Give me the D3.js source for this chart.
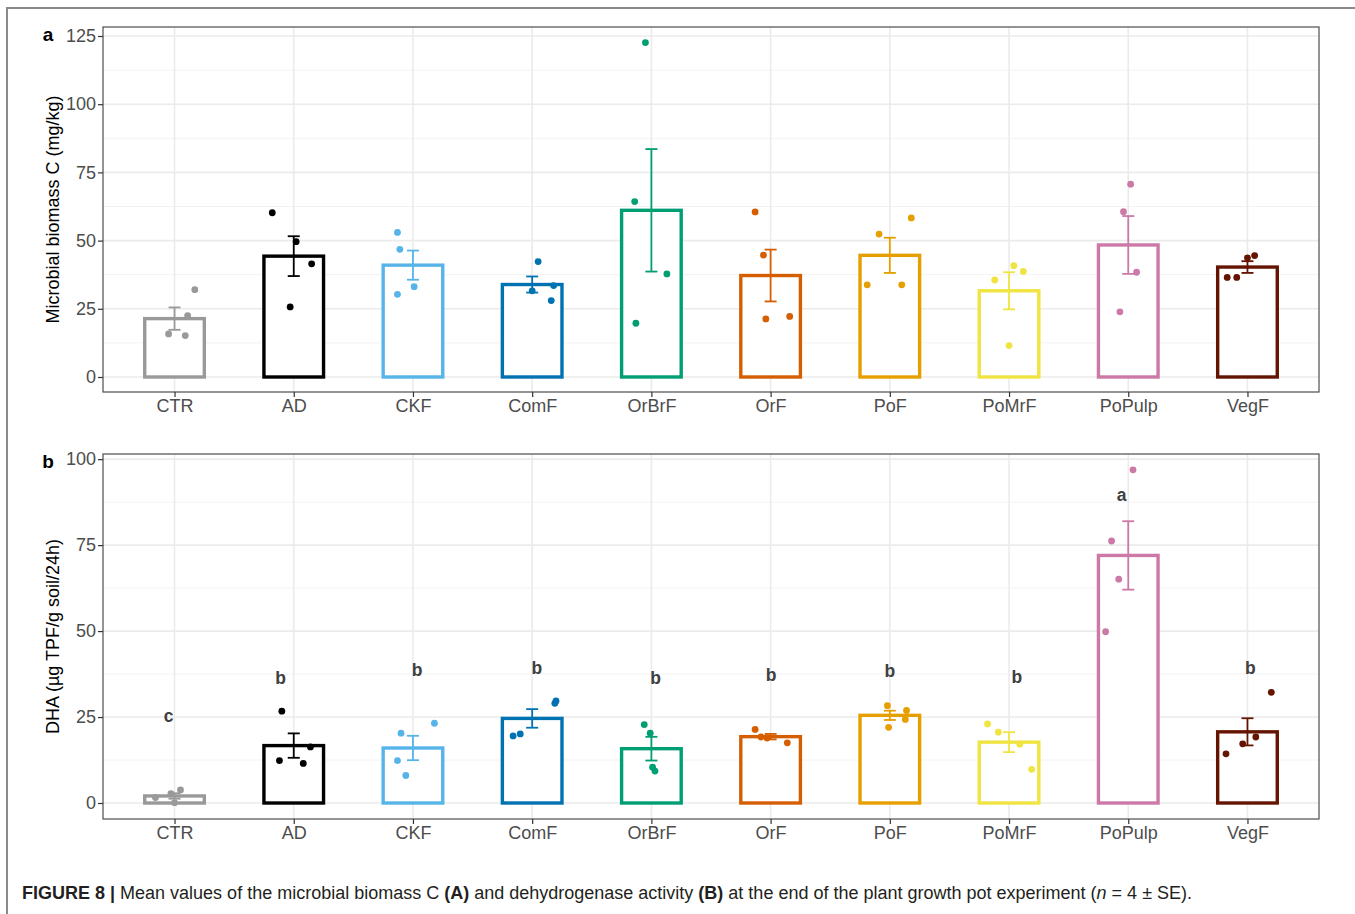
<!DOCTYPE html>
<html>
<head>
<meta charset="utf-8">
<script src="https://cdn.jsdelivr.net/npm/d3@7"></script>
<style>
  html, body { margin: 0; padding: 0; background: #fff; }
  svg { display: block; font-family: "Liberation Sans", Arial, Helvetica, sans-serif; }
</style>
</head>
<body>
<svg id="fig" width="1355" height="914"></svg>
<script>
// Treatments and their fill/stroke colours
const categories = ["CTR", "AD", "CKF", "ComF", "OrBrF", "OrF", "PoF", "PoMrF", "PoPulp", "VegF"];
const colors = ["#999999", "#000000", "#56B4E9", "#0072B2", "#009E73", "#D55E00", "#E69F00", "#F0E442", "#CC79A7", "#641400"];

// (a) Microbial biomass C (mg/kg): means, standard errors, replicate values
const mbcMean = [21.4, 44.3, 41.0, 33.9, 61.1, 37.2, 44.6, 31.6, 48.4, 40.3];
const mbcSE   = [4.1, 7.3, 5.35, 2.95, 22.45, 9.5, 6.45, 6.8, 10.6, 2.15];
const mbcReps = [
  [32.0, 22.5, 15.8, 15.2],
  [60.2, 49.6, 41.5, 25.7],
  [53.0, 46.8, 33.1, 30.3],
  [42.3, 33.5, 31.6, 28.0],
  [122.6, 64.3, 37.8, 19.7],
  [60.5, 44.7, 22.2, 21.3],
  [58.3, 52.4, 33.8, 33.8],
  [40.8, 38.7, 35.6, 11.5],
  [70.7, 60.6, 38.4, 23.9],
  [44.5, 43.7, 36.5, 36.5]
];
// horizontal jitter of the replicate dots, in category-step units
const mbcJitter = [
  [0.17, 0.11, -0.05, 0.09],
  [-0.18, 0.02, 0.15, -0.03],
  [-0.13, -0.11, 0.01, -0.13],
  [0.05, 0.18, 0.0, 0.16],
  [-0.05, -0.14, 0.13, -0.13],
  [-0.13, -0.06, 0.16, -0.04],
  [0.18, -0.09, -0.19, 0.10],
  [0.04, 0.12, -0.12, 0.0],
  [0.02, -0.04, 0.07, -0.07],
  [0.06, 0.0, -0.17, -0.09]
];
const mbcTicks = [0, 25, 50, 75, 100, 125];

// (b) Dehydrogenase activity (µg TPF/g soil/24h)
const dhaMean = [2.05, 16.7, 16.0, 24.6, 15.8, 19.3, 25.5, 17.7, 72.0, 20.7];
const dhaSE   = [0.8, 3.55, 3.55, 2.7, 3.45, 0.8, 1.35, 2.9, 9.95, 3.95];
const dhaReps = [
  [3.8, 2.7, 1.6, 0.1],
  [26.7, 16.3, 12.3, 11.5],
  [23.2, 20.3, 12.3, 8.0],
  [29.7, 29.0, 20.1, 19.5],
  [22.8, 20.3, 10.4, 9.3],
  [21.4, 19.2, 18.9, 17.5],
  [28.3, 26.9, 24.3, 22.0],
  [23.0, 20.6, 17.1, 9.8],
  [96.9, 76.2, 65.1, 49.8],
  [32.2, 19.2, 17.2, 14.3]
];
const dhaJitter = [
  [0.05, -0.03, -0.16, 0.0],
  [-0.10, 0.14, -0.12, 0.08],
  [0.18, -0.10, -0.13, -0.06],
  [0.20, 0.19, -0.10, -0.16],
  [-0.06, -0.01, 0.01, 0.03],
  [-0.13, -0.08, -0.03, 0.14],
  [-0.02, 0.14, 0.13, -0.01],
  [-0.18, -0.09, 0.09, 0.19],
  [0.04, -0.14, -0.08, -0.19],
  [0.20, 0.07, -0.04, -0.18]
];
const dhaTicks = [0, 25, 50, 75, 100];
// significance letters, their heights (data units) and small horizontal offsets
const dhaLetters = ["c", "b", "b", "b", "b", "b", "b", "b", "a", "b"];
const dhaLetterY = [25.3, 36.5, 38.6, 39.3, 36.4, 37.3, 38.5, 36.8, 89.7, 39.2];
const dhaLetterDx = [-0.05, -0.11, 0.035, 0.04, 0.035, 0.005, 0.0, 0.065, -0.055, 0.025];

const svg = d3.select("#fig");

// outer figure frame (top and left edges)
svg.append("path")
  .attr("d", "M7,914 V8 H1355")
  .attr("fill", "none").attr("stroke", "#8a8a8a").attr("stroke-width", 2);

function drawPanel(opt) {
  const { top, bottom, left, right, domain, ticks, mean, se, reps, jitter, ylabel, tag } = opt;
  const g = svg.append("g");

  const x = d3.scalePoint().domain(categories).range([left, right]).padding(0.6);
  const step = x.step();
  const y = d3.scaleLinear().domain(domain).range([bottom, top]);

  // minor grid (midpoints between major ticks)
  const minor = [];
  for (let i = 0; i < ticks.length - 1; i++) minor.push((ticks[i] + ticks[i + 1]) / 2);
  if (y(ticks[ticks.length - 1] + (ticks[1] - ticks[0]) / 2) > top) minor.push(ticks[ticks.length - 1] + (ticks[1] - ticks[0]) / 2);
  g.selectAll(".minor").data(minor).join("line")
    .attr("x1", left).attr("x2", right)
    .attr("y1", d => y(d)).attr("y2", d => y(d))
    .attr("stroke", "#f2f2f2").attr("stroke-width", 1);

  // major grid
  g.selectAll(".hmaj").data(ticks).join("line")
    .attr("x1", left).attr("x2", right)
    .attr("y1", d => y(d)).attr("y2", d => y(d))
    .attr("stroke", "#ebebeb").attr("stroke-width", 1.6);
  g.selectAll(".vmaj").data(categories).join("line")
    .attr("x1", d => x(d)).attr("x2", d => x(d))
    .attr("y1", top).attr("y2", bottom)
    .attr("stroke", "#ebebeb").attr("stroke-width", 1.6);

  const barW = step * 0.5;
  const rows = categories.map((c, i) => ({ c, i, m: mean[i], s: se[i], col: colors[i] }));

  // bars (outlined, white fill)
  g.selectAll(".bar").data(rows).join("rect")
    .attr("x", d => x(d.c) - barW / 2)
    .attr("width", barW)
    .attr("y", d => y(d.m))
    .attr("height", d => y(0) - y(d.m))
    .attr("fill", "#fff")
    .attr("stroke", d => d.col)
    .attr("stroke-width", 3.4);

  // error bars (mean ± SE)
  const cap = 6;
  const eb = g.selectAll(".eb").data(rows).join("g").attr("stroke", d => d.col).attr("stroke-width", 1.8);
  eb.append("line").attr("x1", d => x(d.c)).attr("x2", d => x(d.c))
    .attr("y1", d => y(d.m - d.s)).attr("y2", d => y(d.m + d.s));
  eb.append("line").attr("x1", d => x(d.c) - cap).attr("x2", d => x(d.c) + cap)
    .attr("y1", d => y(d.m + d.s)).attr("y2", d => y(d.m + d.s));
  eb.append("line").attr("x1", d => x(d.c) - cap).attr("x2", d => x(d.c) + cap)
    .attr("y1", d => y(d.m - d.s)).attr("y2", d => y(d.m - d.s));

  // replicate dots
  const pts = [];
  reps.forEach((arr, i) => arr.forEach((v, k) => pts.push({ c: categories[i], v, j: jitter[i][k], col: colors[i] })));
  g.selectAll(".pt").data(pts).join("circle")
    .attr("cx", d => x(d.c) + d.j * step)
    .attr("cy", d => y(d.v))
    .attr("r", 3.4)
    .attr("fill", d => d.col);

  // panel border
  g.append("rect").attr("x", left).attr("y", top)
    .attr("width", right - left).attr("height", bottom - top)
    .attr("fill", "none").attr("stroke", "#4d4d4d").attr("stroke-width", 1.2);

  // y axis
  const ya = g.append("g").attr("transform", `translate(${left},0)`)
    .call(d3.axisLeft(y).tickValues(ticks).tickSize(5).tickPadding(2).tickFormat(d3.format("d")));
  ya.select(".domain").remove();
  ya.selectAll(".tick line").attr("stroke", "#333").attr("stroke-width", 1.2);
  ya.selectAll(".tick text").attr("fill", "#4d4d4d").attr("font-size", 18)
    .attr("font-family", "Liberation Sans, Arial, sans-serif");

  // x axis
  const xa = g.append("g").attr("transform", `translate(0,${bottom})`)
    .call(d3.axisBottom(x).tickSize(5).tickPadding(2));
  xa.select(".domain").remove();
  xa.selectAll(".tick line").attr("stroke", "#333").attr("stroke-width", 1.2);
  xa.selectAll(".tick text").attr("fill", "#4d4d4d").attr("font-size", 18)
    .attr("font-family", "Liberation Sans, Arial, sans-serif");

  // y axis title
  g.append("text")
    .attr("transform", `translate(59,${(top + bottom) / 2}) rotate(-90)`)
    .attr("text-anchor", "middle")
    .attr("font-size", 18).attr("fill", "#000")
    .text(ylabel);

  // panel tag
  g.append("text").attr("x", 48).attr("y", top + 14)
    .attr("text-anchor", "middle")
    .attr("font-size", 19).attr("font-weight", "bold").attr("fill", "#000")
    .text(tag);

  return { g, x, y, step };
}

drawPanel({
  top: 27, bottom: 392, left: 103, right: 1319,
  domain: [-5.5, 128.3], ticks: mbcTicks,
  mean: mbcMean, se: mbcSE, reps: mbcReps, jitter: mbcJitter,
  ylabel: "Microbial biomass C (mg/kg)", tag: "a"
});

const pb = drawPanel({
  top: 454, bottom: 819, left: 103, right: 1319,
  domain: [-4.65, 101.5], ticks: dhaTicks,
  mean: dhaMean, se: dhaSE, reps: dhaReps, jitter: dhaJitter,
  ylabel: "DHA (µg TPF/g soil/24h)", tag: "b"
});

// significance letters over panel b
pb.g.selectAll(".letter").data(categories).join("text")
  .attr("x", (c, i) => pb.x(c) + dhaLetterDx[i] * pb.step)
  .attr("y", (c, i) => pb.y(dhaLetterY[i]))
  .attr("dy", "0.35em")
  .attr("text-anchor", "middle")
  .attr("font-size", 17.5).attr("font-weight", "bold").attr("fill", "#404040")
  .text((c, i) => dhaLetters[i]);

// figure caption
const cap = svg.append("text").attr("x", 22).attr("y", 899)
  .attr("font-size", 18).attr("fill", "#231f20");
cap.append("tspan").attr("font-weight", "bold").text("FIGURE 8 | ");
cap.append("tspan").text("Mean values of the microbial biomass C ");
cap.append("tspan").attr("font-weight", "bold").text("(A)");
cap.append("tspan").text(" and dehydrogenase activity ");
cap.append("tspan").attr("font-weight", "bold").text("(B)");
cap.append("tspan").text(" at the end of the plant growth pot experiment (");
cap.append("tspan").attr("font-style", "italic").text("n");
cap.append("tspan").text(" = 4 ± SE).");
</script>
</body>
</html>
